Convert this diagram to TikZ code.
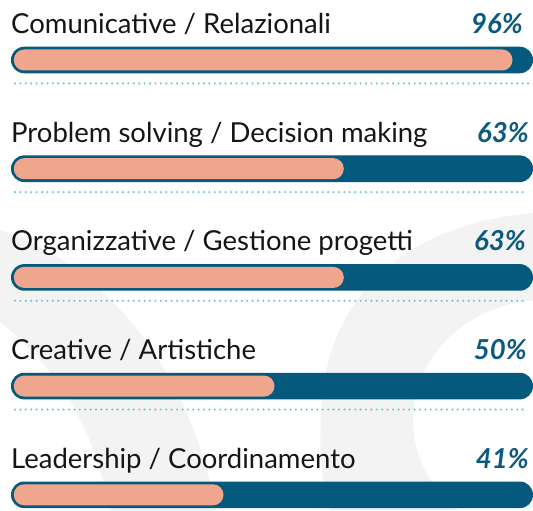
\documentclass[tikz,border=0pt]{standalone}
\usepackage{fontspec}
\setmainfont{Lato}
\definecolor{barblue}{HTML}{05597C}
\definecolor{salmon}{HTML}{EFA68C}
\definecolor{dotteal}{HTML}{6CC5CF}
\definecolor{wmgray}{HTML}{F3F3F3}
\definecolor{txt}{HTML}{151515}
\definecolor{pctblue}{HTML}{0C5B7E}
\begin{document}
\begin{tikzpicture}[x=1pt,y=-1pt,
 lbl/.style={anchor=base west, inner sep=0pt, text=txt, font=\fontsize{27.5}{32}\selectfont},
 pct/.style={anchor=base east, inner sep=0pt, text=pctblue, font=\fontsize{27.5}{32}\selectfont\bfseries\itshape},
 barbg/.style={fill=barblue, rounded corners=13.2pt, anchor=north west, minimum width=522pt, minimum height=26.6pt, inner sep=0pt, outer sep=0pt},
 barfill/.style={fill=salmon, rounded corners=10.4pt, anchor=west, minimum height=21pt, inner sep=0pt, outer sep=0pt},
 dotline/.style={dotteal, line width=2.3pt, line cap=round, dash pattern=on 0pt off 5.4pt}]
\useasboundingbox (0,0) rectangle (533,511);
\fill[white] (0,0) rectangle (533,511);
% watermark
\begin{scope}
\clip (0,0) rectangle (533,511);
\fill[wmgray] (0,230) .. controls (120,270) and (195,390) .. (216,511) -- (110,511) .. controls (95,430) and (60,370) .. (0,322) -- cycle;
\fill[wmgray, even odd rule] (533,213) .. controls (400,225) and (330,300) .. (322,400) .. controls (318,450) and (322,490) .. (330,511) -- (330,515) -- (540,515) -- (540,213) -- cycle
  (545,420) ellipse [x radius=132pt, y radius=120pt];
\end{scope}
% row 1
\node[lbl] (l1) at (11,33.4) {Comunicative / Relazionali};
\node[pct] (p1) at (523,33.4) {96\%};
\node[barbg] (b1) at (11,46.7) {};
\node[barfill, minimum width=498.7pt] (f1) at ([xshift=2.8pt]b1.west) {};
\coordinate (d1s) at (15,83.4);
\coordinate (d1e) at (533,83.4);
\draw[dotline] (d1s) -- (d1e);
% row 2
\node[lbl] (l2) at (11,142.1) {Problem solving / Decision making};
\node[pct] (p2) at (529,142.1) {63\%};
\node[barbg] (b2) at (11,155.4) {};
\node[barfill, minimum width=330pt] (f2) at ([xshift=2.8pt]b2.west) {};
\coordinate (d2s) at (15,192.1);
\coordinate (d2e) at (527,192.1);
\draw[dotline] (d2s) -- (d2e);
% row 3
\node[lbl] (l3) at (11,250.8) {Organizzative / Gestione progetti};
\node[pct] (p3) at (526,250.8) {63\%};
\node[barbg] (b3) at (11,264.1) {};
\node[barfill, minimum width=330pt] (f3) at ([xshift=2.8pt]b3.west) {};
\coordinate (d3s) at (15,300.8);
\coordinate (d3e) at (527,300.8);
\draw[dotline] (d3s) -- (d3e);
% row 4
\node[lbl] (l4) at (11,359.5) {Creative / Artistiche};
\node[pct] (p4) at (527,359.5) {50\%};
\node[barbg] (b4) at (11,372.8) {};
\node[barfill, minimum width=260.7pt] (f4) at ([xshift=2.8pt]b4.west) {};
\coordinate (d4s) at (15,409.5);
\coordinate (d4e) at (527,409.5);
\draw[dotline] (d4s) -- (d4e);
% row 5
\node[lbl] (l5) at (11,468.2) {Leadership / Coordinamento};
\node[pct] (p5) at (529,468.2) {41\%};
\node[barbg] (b5) at (11,481.5) {};
\node[barfill, minimum width=209.7pt] (f5) at ([xshift=2.8pt]b5.west) {};
\end{tikzpicture}
\end{document}
